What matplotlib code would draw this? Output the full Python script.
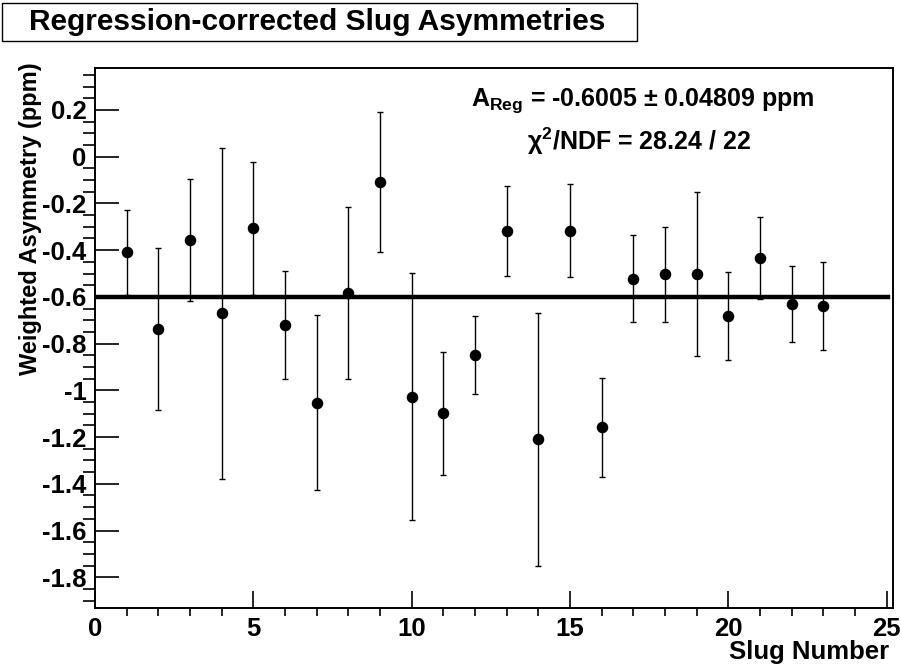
import matplotlib
matplotlib.use('Agg')
import matplotlib.pyplot as plt
from matplotlib.patches import Rectangle
from matplotlib.ticker import MultipleLocator

plt.rcParams['font.family'] = ['Liberation Sans', 'DejaVu Sans']
plt.rcParams['font.weight'] = 'bold'
plt.rcParams['mathtext.fontset'] = 'custom'
plt.rcParams['mathtext.rm'] = 'Liberation Sans:bold'
plt.rcParams['mathtext.bf'] = 'Liberation Sans:bold'
plt.rcParams['mathtext.it'] = 'Liberation Sans:bold'
plt.rcParams['mathtext.default'] = 'bf'

# slug-by-slug regression-corrected asymmetries (ppm)
slug = [1, 2, 3, 4, 5, 6, 7, 8, 9, 10, 11, 12,
        13, 14, 15, 16, 17, 18, 19, 20, 21, 22, 23]
asym = [-0.41, -0.738, -0.357, -0.671, -0.306, -0.721, -1.053, -0.585, -0.108,
        -1.027, -1.099, -0.850, -0.317, -1.210, -0.316, -1.159, -0.523, -0.503,
        -0.503, -0.682, -0.434, -0.631, -0.640]
asym_err = [0.182, 0.347, 0.262, 0.710, 0.285, 0.230, 0.375, 0.368, 0.298,
            0.530, 0.263, 0.167, 0.192, 0.540, 0.201, 0.210, 0.186, 0.203,
            0.352, 0.190, 0.175, 0.164, 0.188]

fit_value = -0.6005
fit_error = 0.04809
chi2 = 28.24
ndf = 22
fit_range = [0.1, 25.05]

fig = plt.figure(figsize=(9.01, 6.68), dpi=100)
W, H = 901, 668
ax = fig.add_axes([95 / W, 1 - 608.3 / H, (892.7 - 95) / W, (608.3 - 67.7) / H])

ax.errorbar(slug, asym, yerr=asym_err, fmt='o', color='black', ms=7.3,
            elinewidth=1.0, capsize=2, capthick=1.0, zorder=3)
ax.plot(fit_range, [fit_value, fit_value], color='black', lw=3.2, zorder=2)

ax.set_xlim(0, 25.19)
ax.set_ylim(-1.933, 0.381)
ax.xaxis.set_major_locator(MultipleLocator(5))
ax.xaxis.set_minor_locator(MultipleLocator(1))
ax.yaxis.set_major_locator(MultipleLocator(0.2))
ax.yaxis.set_minor_locator(MultipleLocator(0.05))
ax.tick_params(direction='in', labelsize=18.5, width=1.2, top=False, right=False)
ax.tick_params(axis='y', which='major', length=17, pad=6)
ax.tick_params(axis='y', which='minor', length=9, width=1.2)
ax.tick_params(axis='x', which='major', length=12, pad=6)
ax.tick_params(axis='x', which='minor', length=6, width=1.2)
for s in ax.spines.values():
    s.set_linewidth(1.4)

ax.yaxis.set_major_formatter(plt.FuncFormatter(lambda v, p: ('%g' % round(v, 2))))

fig.text(31 / W, 1 - 62 / H, 'Weighted Asymmetry (ppm)', rotation=90,
         ha='center', va='top', fontsize=17, fontweight='bold')
fig.text(889 / W, 1 - 652 / H, 'Slug Number', ha='right', va='center',
         fontsize=18.5, fontweight='bold')

fig.text(643 / W, 1 - 101 / H, r'A$_{\mathbf{Reg}}$ = %.4f $\pm$ %.5f ppm' % (fit_value, fit_error),
         ha='center', va='center', fontsize=18, fontweight='bold')
fig.text(639 / W, 1 - 141 / H, r'$\chi^{\mathbf{2}}$/NDF = %.2f / %d' % (chi2, ndf),
         ha='center', va='center', fontsize=18, fontweight='bold')

# title box
fig.patches.append(Rectangle((2 / W, 1 - 41 / H), (637 - 2) / W, 38 / H,
                             transform=fig.transFigure, fill=False,
                             edgecolor='black', lw=1.0))
fig.text(29 / W, 1 - 22 / H, 'Regression-corrected Slug Asymmetries',
         ha='left', va='center', fontsize=21.5, fontweight='bold')

fig.savefig('out.png', dpi=100)
